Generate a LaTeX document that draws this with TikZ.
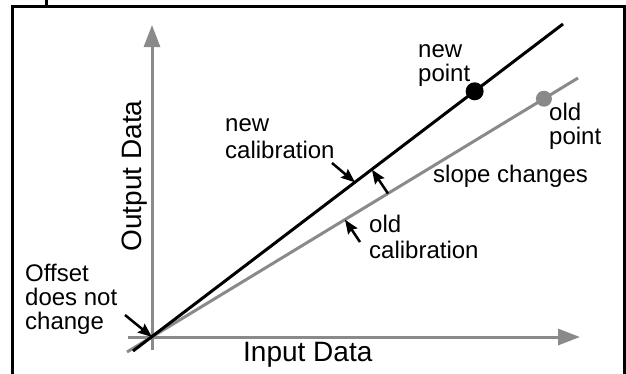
\documentclass[tikz,border=0pt]{standalone}
\usepackage{fontspec}
\setmainfont{Liberation Sans}
\usetikzlibrary{arrows.meta,calc}
\definecolor{axisgray}{HTML}{8A8A8A}

\begin{document}
\begin{tikzpicture}[x=1pt,y=-1pt,
    lbl/.style={inner sep=0pt,align=left,font=\fontsize{24}{#1}\selectfont},
    lbl/.default=24,
    axlbl/.style={inner sep=0pt,font=\fontsize{28}{30}\selectfont},
    axis/.style={draw=axisgray,line width=3pt,-{Triangle[length=22pt,width=16pt]}},
    calline/.style={line width=3pt},
    pointer/.style={line width=2.5pt,-{Stealth[length=14pt,width=11pt,inset=2pt]}},
    dot/.style={circle,inner sep=0pt,minimum size=#1}]
                \useasboundingbox (0,0) rectangle (626,373);
                \clip (0,0) rectangle (626,373);
                \draw[line width=3pt] (12,380) -- (12,6) -- (624.5,6) -- (624.5,380);
                \draw[line width=3pt] (46,-5) -- (46,6);
                \coordinate (O) at (152,337);
                \coordinate (xlo) at (128,337);
                \coordinate (xhi) at (580,337);
                \coordinate (ylo) at (152,350);
                \coordinate (yhi) at (152,25);
                \coordinate (newlo) at (133,351);
                \coordinate (newhi) at (563,24);
                \coordinate (oldlo) at (127,352);
                \coordinate (oldhi) at (578,78);
                \draw[axis] (xlo) -- (xhi);
                \draw[axis] (ylo) -- (yhi);
                \draw[calline,draw=axisgray] (oldlo) -- (oldhi);
                \draw[calline] (newlo) -- (newhi);
                \node[dot=18pt,fill=black] (newpt) at ($(O)!0.785!(newhi)$) {};
                \node[dot=16pt,fill=axisgray] (oldpt) at ($(O)!0.92!(oldhi)$) {};
                \node[axlbl,anchor=base west] (inlbl) at (243,361) {Input Data};
                \node[axlbl,anchor=base,rotate=90] (outlbl) at (141,176) {Output Data};
                \node[lbl=24,anchor=north west] (newptlbl) at (418,44) {new\\point};
                \node[lbl=24,anchor=north west] (oldptlbl) at (549,103) {old\\point};
                \node[lbl,anchor=base west] (slopelbl) at (433,182) {slope changes};
                \node[lbl=27,anchor=north west] (newcal) at (225,118) {new\\calibration};
                \node[lbl=26,anchor=north west] (oldcal) at (369,215) {old\\calibration};
                \node[lbl=24,anchor=north west] (offset) at (25,264) {Offset\\does not\\change};
                \coordinate (newtail) at (332,163);
                \coordinate (newtip) at ($(O)!0.494!(newhi)$);
                \coordinate (slopetail) at ($(O)!0.554!(oldhi)$);
                \coordinate (slopetip) at ($(O)!0.535!(newhi)$);
                \coordinate (oldtail) at (360,242);
                \coordinate (oldtip) at ($(O)!0.453!(oldhi)$);
                \coordinate (offtail) at (125,315);
                \draw[pointer] (newtail) -- (newtip);
                \draw[pointer] (slopetail) -- (slopetip);
                \draw[pointer] (oldtail) -- (oldtip);
                \draw[pointer] (offtail) -- (O);
\end{tikzpicture}
\end{document}
